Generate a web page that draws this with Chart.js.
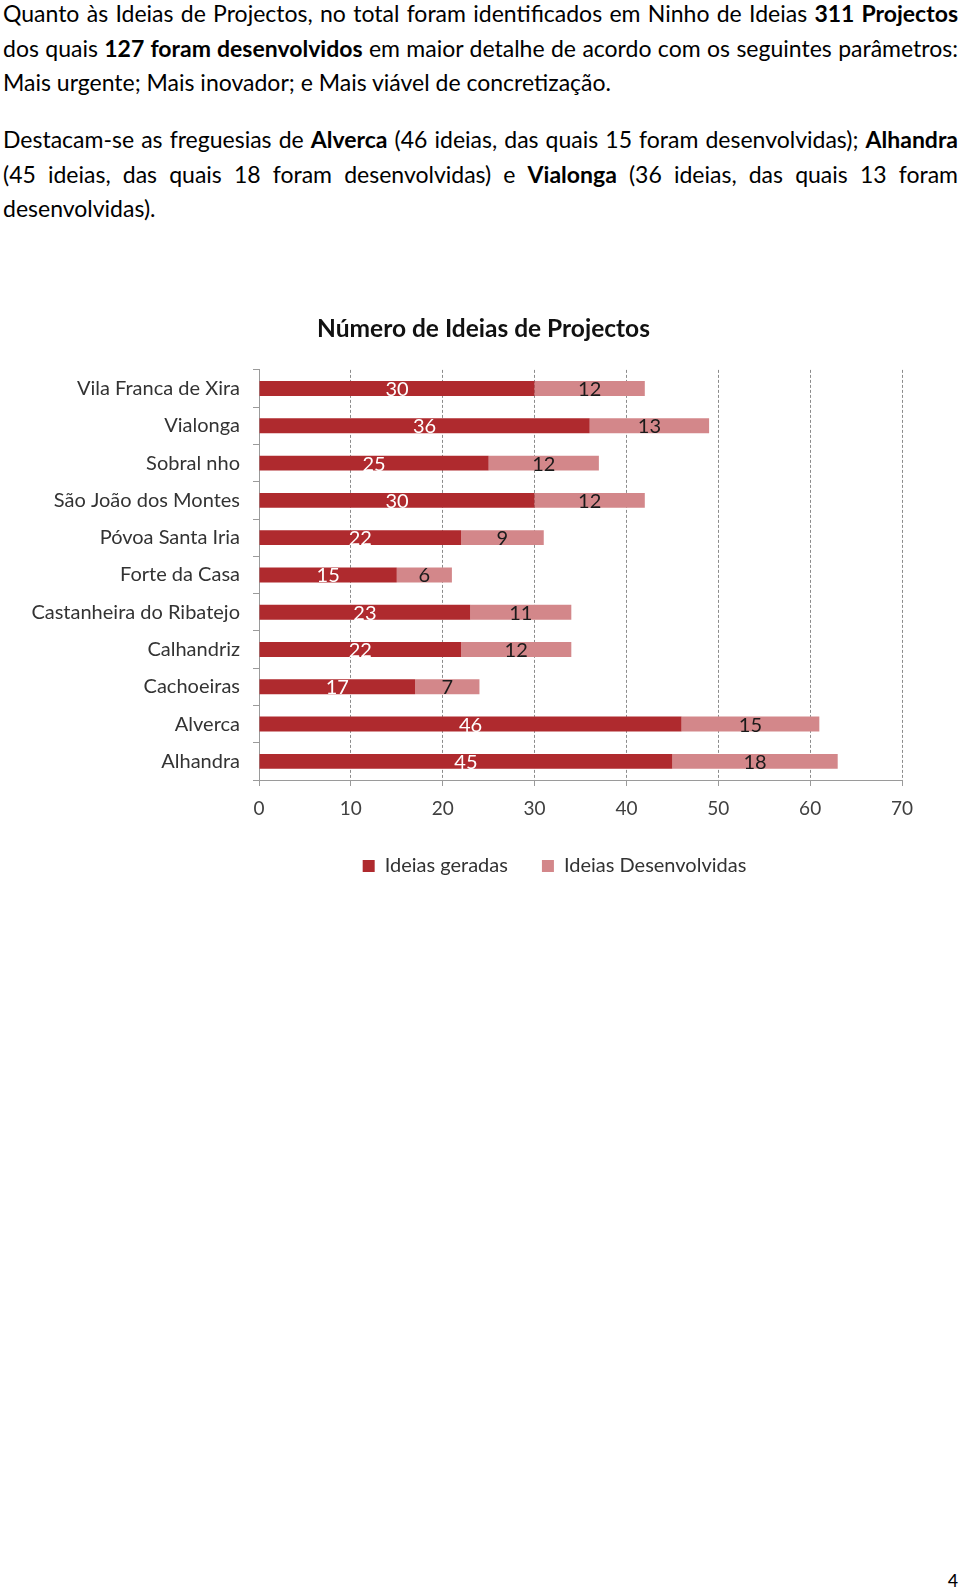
<!DOCTYPE html>
<html lang="pt">
<head>
<meta charset="utf-8">
<title>Número de Ideias de Projectos</title>
<script src="https://cdn.jsdelivr.net/npm/chart.js@4/dist/chart.umd.min.js"></script>
<style>
    html, body {
        margin: 0;
        padding: 0;
        background: #fff;
        width: 960px;
        height: 1591px;
        overflow: hidden;
    }
    body {
        position: relative;
        font-family: Lato, "Open Sans", sans-serif;
        color: #000;
    }
    .texto {
        position: absolute;
        left: 3px;
        width: 955px;
        font-size: 23px;
        line-height: 34.5px;
    }
    .texto div {
        white-space: nowrap;
    }
    .texto .just {
        text-align: justify;
        text-align-last: justify;
    }
    #p1 { top: -4px; }
    #p2 { top: 122px; }
    #grafico {
        position: absolute;
        left: 0;
        top: 300px;
    }
    .pagina {
        position: absolute;
        right: 2px;
        top: 1568px;
        font-size: 20px;
        font-family: Calibri, Lato, sans-serif;
    }
</style>
</head>
<body>

<div class="texto" id="p1">
    <div class="just">Quanto às Ideias de Projectos, no total foram identificados em Ninho de Ideias <b>311 Projectos</b></div>
    <div class="just">dos quais <b>127 foram desenvolvidos</b> em maior detalhe de acordo com os seguintes parâmetros:</div>
    <div>Mais urgente; Mais inovador; e Mais viável de concretização.</div>
</div>

<div class="texto" id="p2">
    <div class="just">Destacam-se as freguesias de <b>Alverca</b> (46 ideias, das quais 15 foram desenvolvidas); <b>Alhandra</b></div>
    <div class="just">(45 ideias, das quais 18 foram desenvolvidas) e <b>Vialonga</b> (36 ideias, das quais 13 foram</div>
    <div>desenvolvidas).</div>
</div>

<canvas id="grafico" width="960" height="600"></canvas>

<div class="pagina">4</div>

<script>
// dados do gráfico
const freguesias = ['Vila Franca de Xira', 'Vialonga', 'Sobral nho', 'São João dos Montes',
    'Póvoa Santa Iria', 'Forte da Casa', 'Castanheira do Ribatejo', 'Calhandriz',
    'Cachoeiras', 'Alverca', 'Alhandra'];
const ideiasGeradas = [30, 36, 25, 30, 22, 15, 23, 22, 17, 46, 45];
const ideiasDesenvolvidas = [12, 13, 12, 12, 9, 6, 11, 12, 7, 15, 18];
const ticksX = [0, 10, 20, 30, 40, 50, 60, 70];

const corGeradas = '#AF2A2E';
const corDesenvolvidas = '#D3878A';
const corEixo = '#9a9a9a';

// etiquetas de valor dentro das barras
const etiquetasPlugin = {
    id: 'etiquetas',
    afterDatasetsDraw(chart) {
        const ctx = chart.ctx;
        ctx.save();
        ctx.font = '20px Lato, sans-serif';
        ctx.textAlign = 'center';
        ctx.textBaseline = 'middle';
        chart.data.datasets.forEach((ds, i) => {
            const meta = chart.getDatasetMeta(i);
            ctx.fillStyle = i === 0 ? '#ffffff' : '#1a1a1a';
            meta.data.forEach((bar, j) => {
                const x = (bar.x + bar.base) / 2;
                ctx.fillText(String(ds.data[j]), x, bar.y + 1);
            });
        });
        ctx.restore();
    }
};

// título e legenda do original não estão centrados na mesma posição
const posicaoPlugin = {
    id: 'posicaoTitulo',
    afterLayout(chart) {
        chart.titleBlock.left += 29;
        chart.titleBlock.right += 29;
        chart.legend.left += 100;
        chart.legend.right += 100;
    }
};

new Chart(document.getElementById('grafico'), {
    type: 'bar',
    data: {
        labels: freguesias,
        datasets: [{
            label: 'Ideias geradas',
            data: ideiasGeradas,
            backgroundColor: corGeradas,
            barPercentage: 0.5,
            categoryPercentage: 0.8
        }, {
            label: 'Ideias Desenvolvidas',
            data: ideiasDesenvolvidas,
            backgroundColor: corDesenvolvidas,
            barPercentage: 0.5,
            categoryPercentage: 0.8
        }]
    },
    options: {
        indexAxis: 'y',
        responsive: false,
        animation: false,
        devicePixelRatio: 1,
        layout: {
            padding: { left: 7, right: 58, top: 0, bottom: 14 }
        },
        plugins: {
            title: {
                display: true,
                text: 'Número de Ideias de Projectos',
                color: '#111',
                font: { family: 'Lato, sans-serif', size: 24.5, weight: 'bold' },
                padding: { top: 14.5, bottom: 26 }
            },
            legend: {
                display: true,
                position: 'bottom',
                labels: {
                    color: '#333',
                    font: { family: 'Lato, sans-serif', size: 20 },
                    boxWidth: 12,
                    boxHeight: 12,
                    padding: 34
                }
            },
            tooltip: { enabled: false }
        },
        scales: {
            x: {
                stacked: true,
                min: 0,
                max: 70,
                afterBuildTicks(scale) {
                    scale.ticks = ticksX.map(v => ({ value: v }));
                },
                afterFit(scale) {
                    scale.height = 42;
                },
                ticks: {
                    color: '#404040',
                    font: { family: 'Lato, sans-serif', size: 19 },
                    padding: 11
                },
                grid: {
                    color: ctx => ctx.tick && ctx.tick.value === 0 ? 'rgba(0,0,0,0)' : '#8c8c8c',
                    tickColor: corEixo,
                    tickLength: 6,
                    drawTicks: true
                },
                border: {
                    color: corEixo,
                    dash: [3, 2]
                }
            },
            y: {
                stacked: true,
                afterFit(scale) {
                    scale.width = 252;
                },
                ticks: {
                    color: '#333',
                    font: { family: 'Lato, sans-serif', size: 20 },
                    padding: 13
                },
                grid: {
                    offset: true,
                    drawOnChartArea: false,
                    tickColor: corEixo,
                    tickLength: 6
                },
                border: {
                    color: corEixo
                }
            }
        }
    },
    plugins: [etiquetasPlugin, posicaoPlugin]
});
</script>
</body>
</html>
